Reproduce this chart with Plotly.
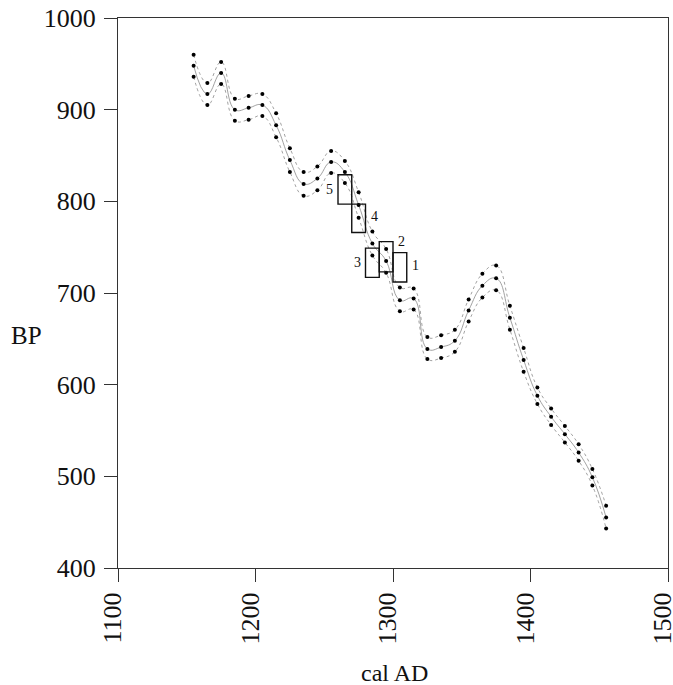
import plotly.graph_objects as go

years = [1155, 1165, 1175, 1185, 1195, 1205, 1215, 1225, 1235, 1245, 1255,
         1265, 1275, 1285, 1295, 1305, 1315, 1325, 1335, 1345, 1355, 1365,
         1375, 1385, 1395, 1405, 1415, 1425, 1435, 1445, 1455]
bp_mid = [948, 917, 940, 900, 902, 905, 883, 845, 819, 825, 843,
          832, 796, 754, 735, 692, 694, 639, 641, 648, 681, 708,
          716, 673, 627, 588, 565, 546, 526, 499, 455]
bp_upper = [960, 929, 952, 912, 915, 917, 896, 858, 832, 838, 855,
            844, 810, 767, 748, 706, 705, 652, 654, 660, 693, 721,
            730, 686, 640, 597, 574, 555, 535, 508, 468]
bp_lower = [936, 905, 928, 888, 889, 893, 870, 832, 806, 812, 831,
            820, 782, 741, 722, 680, 682, 628, 629, 636, 669, 695,
            703, 660, 614, 579, 556, 537, 517, 490, 443]

box_labels = ["1", "2", "3", "4", "5"]
box_x0 = [1300, 1290, 1280, 1270, 1260]
box_x1 = [1310, 1300, 1290, 1280, 1270]
box_y0 = [712, 723, 717, 766, 797]
box_y1 = [744, 756, 749, 797, 829]
label_side = ["right", "right-top", "left", "right", "left"]

FONT = "Liberation Serif, Times New Roman, serif"

fig = go.Figure()
for vals, dash in [(bp_upper, "dot"), (bp_mid, "solid"), (bp_lower, "dot")]:
    fig.add_trace(go.Scatter(
        x=years, y=vals, mode="lines+markers",
        line=dict(shape="spline", smoothing=1.3, color="#8a8a8a", width=0.8, dash=dash),
        marker=dict(color="black", size=4),
        showlegend=False, hoverinfo="skip"))

for lab, x0, x1, y0, y1, side in zip(box_labels, box_x0, box_x1, box_y0, box_y1, label_side):
    fig.add_shape(type="rect", xref="x", yref="y", x0=x0, x1=x1, y0=y0, y1=y1,
                  line=dict(color="#111111", width=1.4), fillcolor="rgba(0,0,0,0)")
    if side == "left":
        fig.add_annotation(x=x0, y=(y0 + y1) / 2, text=lab, showarrow=False,
                           xanchor="right", xshift=-3, font=dict(family=FONT, size=14, color="#111"))
    elif side == "right":
        fig.add_annotation(x=x1, y=(y0 + y1) / 2 + 2, text=lab, showarrow=False,
                           xanchor="left", xshift=3, font=dict(family=FONT, size=14, color="#111"))
    else:
        fig.add_annotation(x=x1, y=y1, text=lab, showarrow=False,
                           xanchor="left", yanchor="middle", xshift=3,
                           font=dict(family=FONT, size=14, color="#111"))

axis_common = dict(showgrid=False, zeroline=False, showline=True, mirror=True,
                   automargin=False,
                   linecolor="#333333", linewidth=1.3, ticks="outside", ticklen=13,
                   tickwidth=1.3, tickcolor="#333333", ticklabeloverflow="allow",
                   tickfont=dict(family=FONT, size=26, color="#111"))

fig.update_xaxes(range=[1100, 1500], tickvals=[1100, 1200, 1300, 1400, 1500],
                 tickangle=-90, ticklabelshift=-5, **axis_common)
fig.update_yaxes(range=[400, 1000], tickvals=[400, 500, 600, 700, 800, 900, 1000],
                 ticklabelstandoff=3, **axis_common)

fig.add_annotation(text="BP", xref="paper", yref="paper", x=-0.1655, y=0.422,
                   xanchor="center", yanchor="middle",
                   showarrow=False, font=dict(family=FONT, size=25, color="#111"))
fig.add_annotation(text="cal AD", xref="paper", yref="paper", x=0.502, y=-0.19,
                   xanchor="center", yanchor="middle",
                   showarrow=False, font=dict(family=FONT, size=24, color="#111"))

fig.update_layout(width=673, height=685, margin=dict(l=118, r=5, t=18, b=117, autoexpand=False),
                  plot_bgcolor="white", paper_bgcolor="white")

fig.write_html("out.html", config={"displayModeBar": False},
               post_script="document.body.style.margin='0';document.body.style.overflow='hidden';")
